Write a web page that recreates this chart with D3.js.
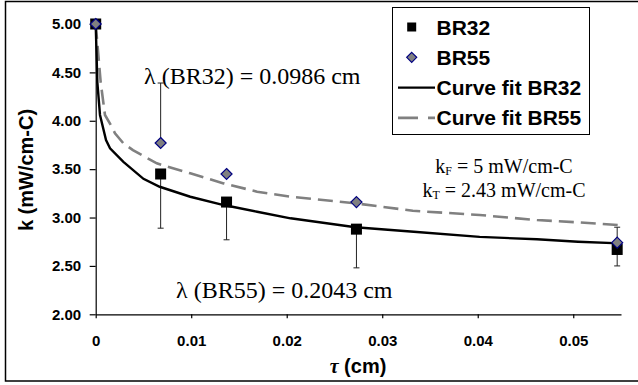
<!DOCTYPE html>
<html>
<head>
<meta charset="utf-8">
<script src="https://cdn.jsdelivr.net/npm/d3@7"></script>
<style>
  html, body { margin: 0; padding: 0; background: #fff; }
  svg { display: block; }
</style>
</head>
<body>
<svg id="chart" width="638" height="385"></svg>
<script>
// ---- data ----
const tau = [0, 0.0068, 0.0137, 0.0273, 0.0546];
const br32 = [5.00, 3.45, 3.16, 2.88, 2.67];
const br55 = [5.00, 3.77, 3.45, 3.16, 2.74];
const br32ErrLow = [0, 0.56, 0.39, 0.40, 0.17];
const br55ErrHigh = [0, 0.62, 0, 0, 0.16];

const fit32Tau = [0, 0.00017, 0.00045, 0.00108, 0.0015, 0.0029, 0.005, 0.0067, 0.0099, 0.0134, 0.0169, 0.0204, 0.0272, 0.0333, 0.0402, 0.0462, 0.0505, 0.0549];
const fit32K   = [5.00, 4.40, 4.06, 3.80, 3.715, 3.576, 3.40, 3.318, 3.215, 3.129, 3.06, 2.992, 2.899, 2.853, 2.80, 2.775, 2.75, 2.733];
const fit55Tau = [0, 0.00052, 0.00097, 0.00168, 0.00202, 0.0029, 0.0039, 0.0064, 0.0099, 0.0134, 0.0169, 0.0204, 0.0272, 0.0332, 0.0402, 0.0462, 0.0505, 0.055];
const fit55K   = [5.00, 4.40, 4.06, 3.938, 3.87, 3.767, 3.697, 3.56, 3.457, 3.353, 3.267, 3.215, 3.147, 3.07, 3.026, 2.974, 2.95, 2.92];

const xTicks = [0, 0.01, 0.02, 0.03, 0.04, 0.05];
const xTickLabels = ["0", "0.01", "0.02", "0.03", "0.04", "0.05"];
const yTicks = [2.0, 2.5, 3.0, 3.5, 4.0, 4.5, 5.0];
const yTickLabels = ["2.00", "2.50", "3.00", "3.50", "4.00", "4.50", "5.00"];

const legendLabels = ["BR32", "BR55", "Curve fit BR32", "Curve fit BR55"];
const legendTypes = ["square", "diamond", "solid", "dashed"];

// ---- drawing ----
const svg = d3.select("#chart");
const x = d3.scaleLinear().domain([0, 0.055]).range([95.7, 621]);
const y = d3.scaleLinear().domain([2, 5]).range([314.3, 24]);

// outer border
svg.append("rect").attr("x", 5.5).attr("y", 1.5).attr("width", 640).attr("height", 379.5)
  .attr("fill", "#fff").attr("stroke", "#000").attr("stroke-width", 1.5);

// axes
const xAxis = d3.axisBottom(x).tickValues(xTicks).tickFormat((d, i) => xTickLabels[i])
  .tickSize(4).tickSizeOuter(0).tickPadding(17);
const gx = svg.append("g").attr("transform", `translate(0,${y(2)})`).call(xAxis);
const yAxis = d3.axisLeft(y).tickValues(yTicks).tickFormat((d, i) => yTickLabels[i])
  .tickSize(6).tickSizeOuter(0).tickPadding(8.5);
const gy = svg.append("g").attr("transform", `translate(${x(0)},0)`).call(yAxis);
[gx, gy].forEach(g => {
  g.selectAll("path.domain").attr("stroke", "#000").attr("stroke-width", 1.2);
  g.selectAll(".tick line").attr("stroke", "#000").attr("stroke-width", 1.2);
  g.selectAll(".tick text").attr("fill", "#000")
    .style("font-family", "'Liberation Sans', Arial, sans-serif")
    .style("font-weight", "bold").style("font-size", "15px");
});

// axis titles
svg.append("text")
  .attr("transform", `translate(33,170) rotate(-90)`)
  .attr("text-anchor", "middle")
  .style("font-family", "'Liberation Sans', Arial, sans-serif")
  .style("font-weight", "bold").style("font-size", "20px")
  .text("k (mW/cm-C)");
const xt = svg.append("text").attr("x", 358).attr("y", 373).attr("text-anchor", "middle")
  .style("font-family", "'Liberation Sans', Arial, sans-serif")
  .style("font-weight", "bold").style("font-size", "20px");
xt.append("tspan").style("font-style", "italic").style("font-family", "'Liberation Serif', serif").text("τ");
xt.append("tspan").text(" (cm)");

// annotations
const serif = "'Liberation Serif', 'Times New Roman', serif";
svg.append("text").attr("x", 144).attr("y", 84).style("font-family", serif).style("font-size", "24px")
  .text("λ (BR32) = 0.0986 cm");
svg.append("text").attr("x", 176).attr("y", 298).style("font-family", serif).style("font-size", "24px")
  .text("λ (BR55) = 0.2043 cm");
function kLine(yPos, sub, rest) {
  const t = svg.append("text").attr("x", 504).attr("y", yPos).attr("text-anchor", "middle")
    .style("font-family", serif).style("font-size", "20px");
  t.append("tspan").text("k");
  t.append("tspan").attr("dy", 2).style("font-size", "12px").text(sub);
  t.append("tspan").attr("dy", -2).text(rest);
}
kLine(173, "F", " = 5 mW/cm-C");
kLine(197, "T", " = 2.43 mW/cm-C");

// error bars
const capW = 3;
const errG = svg.append("g").attr("stroke", "#222").attr("stroke-width", 1);
tau.forEach((t, i) => {
  if (br32ErrLow[i] > 0) {
    const y0 = y(br32[i]), y1 = y(br32[i] - br32ErrLow[i]);
    errG.append("line").attr("x1", x(t)).attr("x2", x(t)).attr("y1", y0).attr("y2", y1);
    errG.append("line").attr("x1", x(t) - capW).attr("x2", x(t) + capW).attr("y1", y1).attr("y2", y1);
  }
  if (br55ErrHigh[i] > 0) {
    const y0 = y(br55[i]), y1 = y(br55[i] + br55ErrHigh[i]);
    errG.append("line").attr("x1", x(t)).attr("x2", x(t)).attr("y1", y0).attr("y2", y1);
    errG.append("line").attr("x1", x(t) - capW).attr("x2", x(t) + capW).attr("y1", y1).attr("y2", y1);
  }
});

// fit curves
const line = d3.line().x(d => x(d[0])).y(d => y(d[1]));
svg.append("path").datum(fit55Tau.map((t, i) => [t, fit55K[i]])).attr("d", line)
  .attr("fill", "none").attr("stroke", "#808080").attr("stroke-width", 2.6)
  .attr("stroke-dasharray", "15,7");
svg.append("path").datum(fit32Tau.map((t, i) => [t, fit32K[i]])).attr("d", line)
  .attr("fill", "none").attr("stroke", "#000").attr("stroke-width", 2.4);

// markers
const sq = 11;
svg.append("g").selectAll("rect").data(tau).join("rect")
  .attr("x", (d) => x(d) - sq / 2).attr("y", (d, i) => y(br32[i]) - sq / 2)
  .attr("width", sq).attr("height", sq).attr("fill", "#000");
const dm = 5.5;
svg.append("g").selectAll("path").data(tau).join("path")
  .attr("d", (d, i) => {
    const cx = x(d), cy = y(br55[i]);
    return `M${cx},${cy - dm}L${cx + dm},${cy}L${cx},${cy + dm}L${cx - dm},${cy}Z`;
  })
  .attr("fill", "#808080").attr("stroke", "#000080").attr("stroke-width", 1.2);

// legend
const lg = svg.append("g");
lg.append("rect").attr("x", 392.5).attr("y", 7.5).attr("width", 197).attr("height", 127)
  .attr("fill", "#fff").attr("stroke", "#000").attr("stroke-width", 1);
legendLabels.forEach((lab, i) => {
  const cy = 27 + i * 30.3;
  const t = legendTypes[i];
  if (t === "square") {
    lg.append("rect").attr("x", 411.7 - 4.5).attr("y", cy - 4.5).attr("width", 9).attr("height", 9).attr("fill", "#000");
  } else if (t === "diamond") {
    const r = 5;
    lg.append("path").attr("d", `M411.7,${cy - r}L${411.7 + r},${cy}L411.7,${cy + r}L${411.7 - r},${cy}Z`)
      .attr("fill", "#808080").attr("stroke", "#000080").attr("stroke-width", 1.2);
  } else if (t === "solid") {
    lg.append("line").attr("x1", 398).attr("x2", 435).attr("y1", cy).attr("y2", cy)
      .attr("stroke", "#000").attr("stroke-width", 2.4);
  } else {
    lg.append("line").attr("x1", 398).attr("x2", 435).attr("y1", cy).attr("y2", cy)
      .attr("stroke", "#808080").attr("stroke-width", 2.6).attr("stroke-dasharray", "20,10,7");
  }
  lg.append("text").attr("x", 436.5).attr("y", cy + 7.5)
    .style("font-family", "'Liberation Sans', Arial, sans-serif")
    .style("font-weight", "bold").style("font-size", "21px").text(lab);
});
</script>
</body>
</html>
